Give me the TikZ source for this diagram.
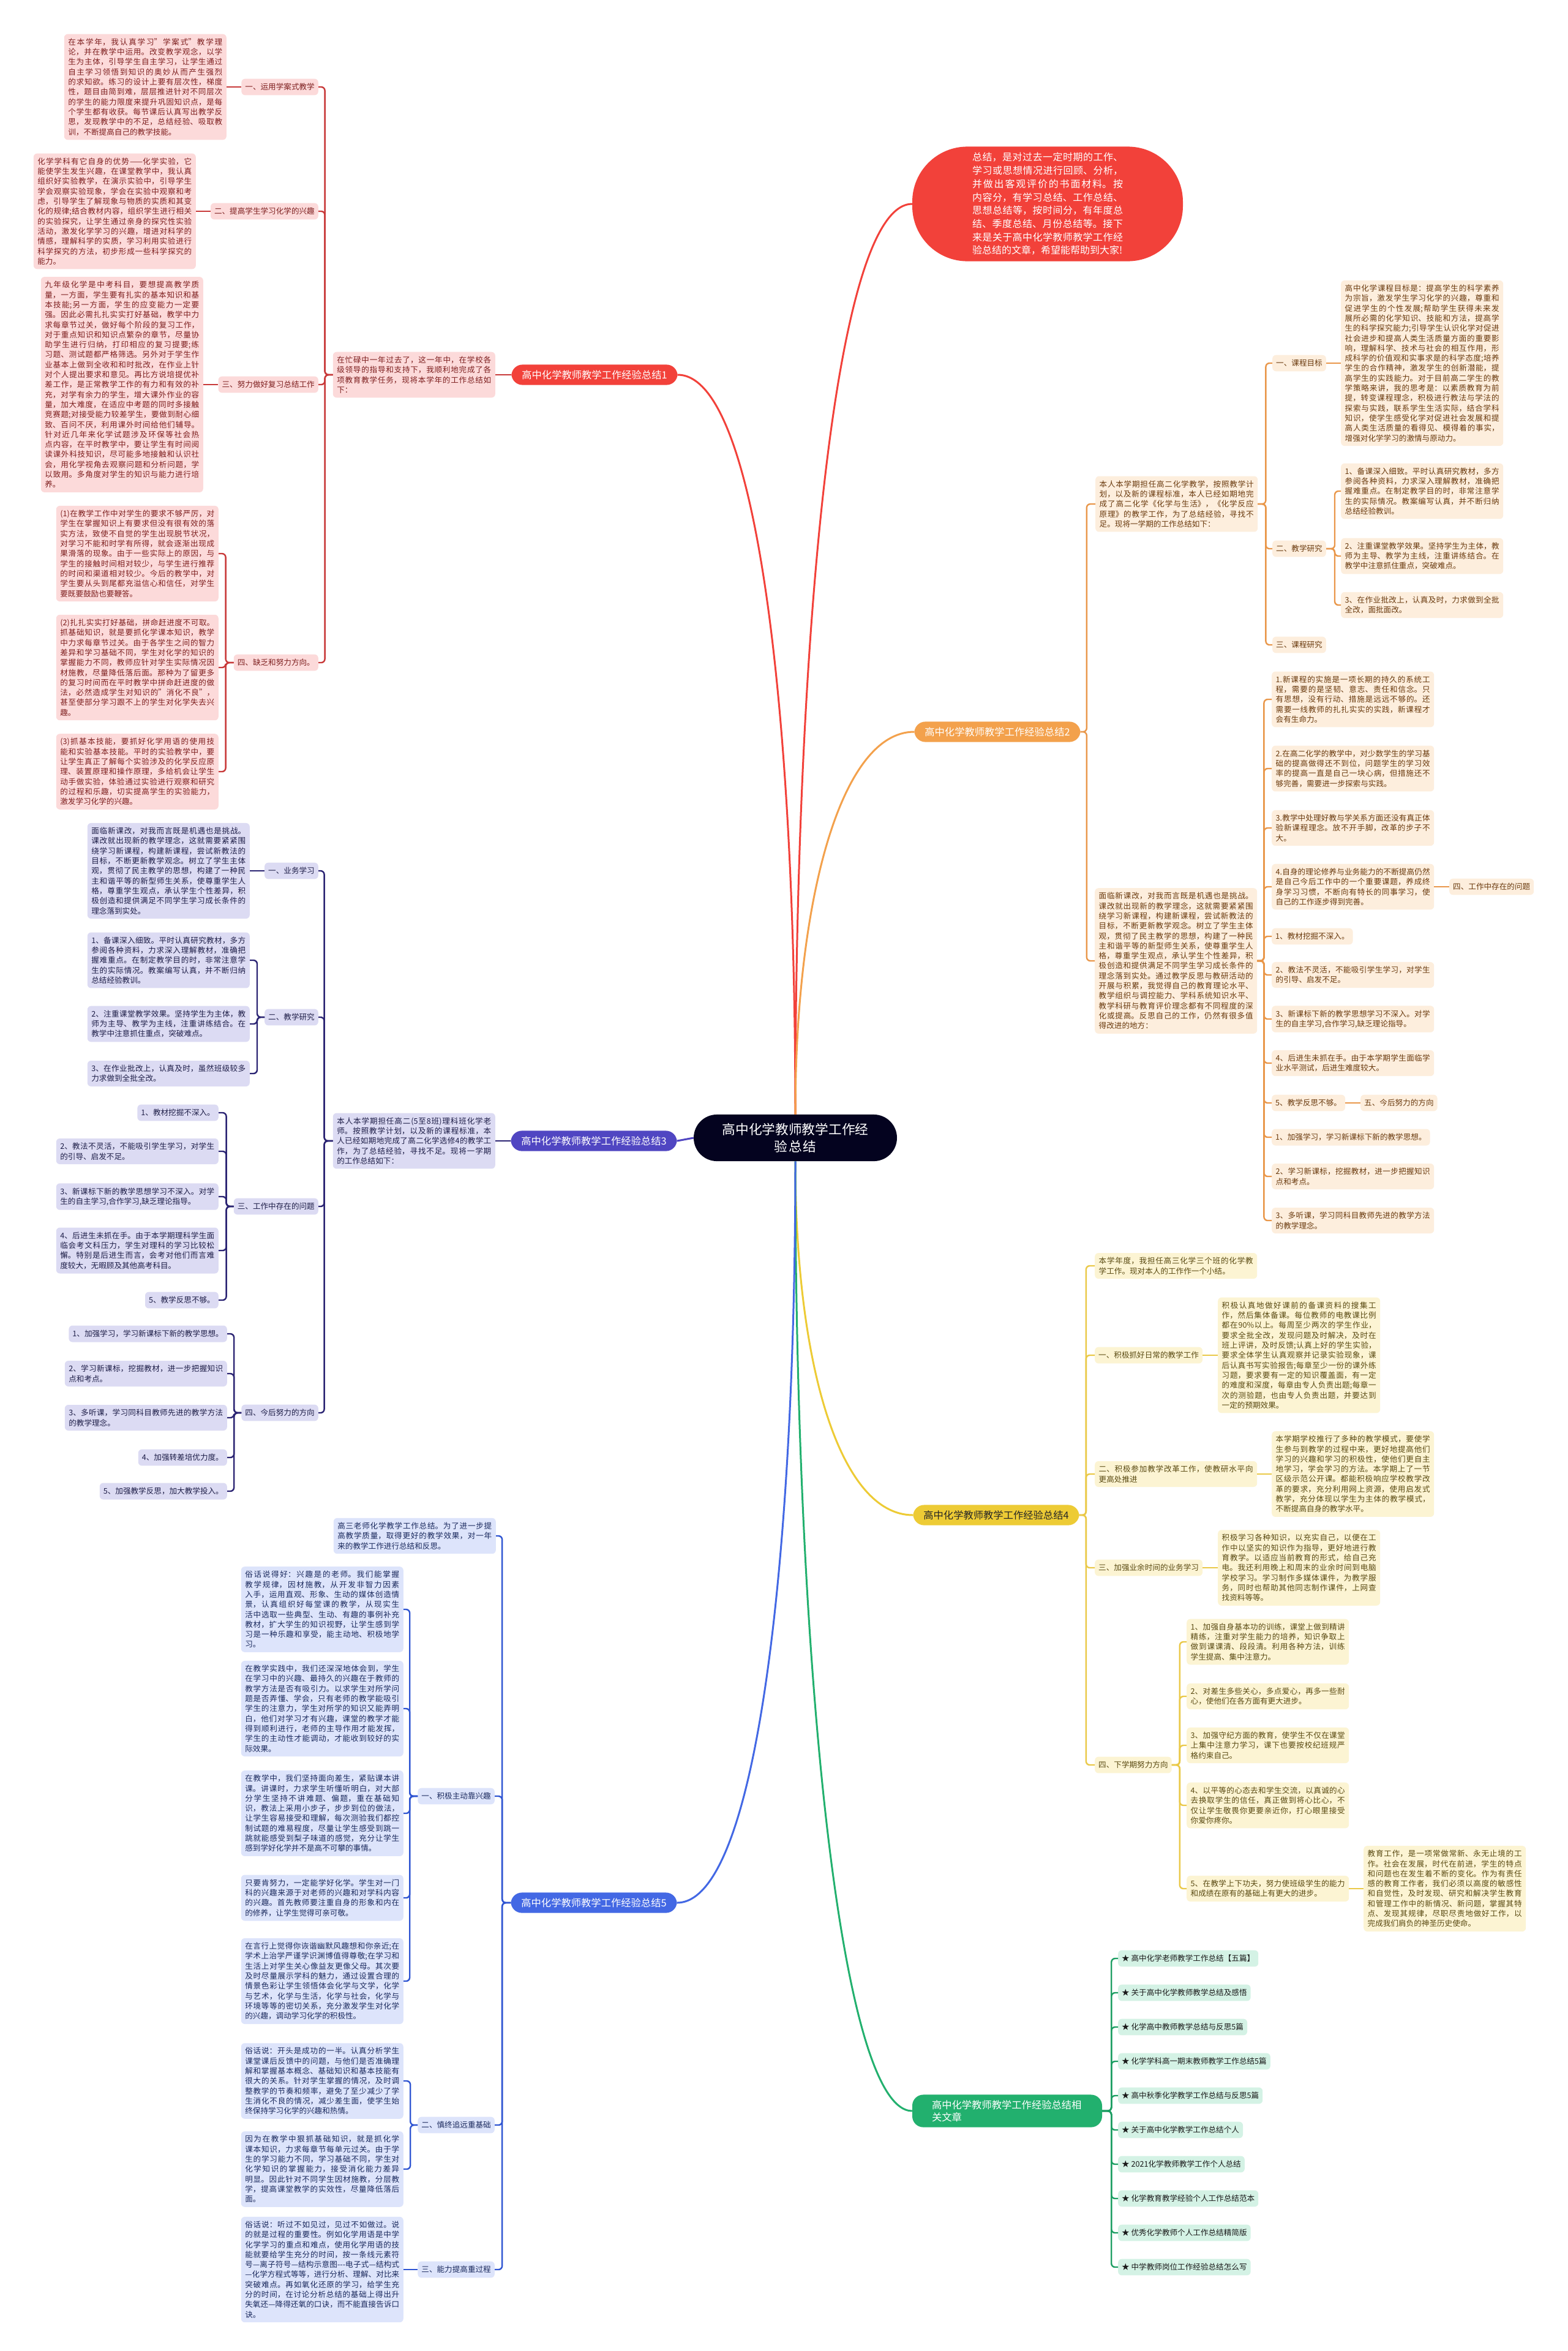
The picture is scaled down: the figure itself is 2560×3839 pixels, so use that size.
\documentclass[tikz,border=0pt]{standalone}
\usepackage{fontspec}
\setmainfont{Noto Sans CJK SC}
\XeTeXlinebreaklocale "zh"
\XeTeXlinebreakskip = 0pt plus 1pt
\usetikzlibrary{positioning}

\definecolor{RootFill}{HTML}{04031F}
\definecolor{RedMain}{HTML}{F2413A}
\definecolor{RedLine}{HTML}{C83A3A}
\definecolor{RedBox}{HTML}{FCDADA}
\definecolor{RedText}{HTML}{7E1F1F}
\definecolor{OrgMain}{HTML}{F3A14C}
\definecolor{OrgLine}{HTML}{E9974A}
\definecolor{OrgBox}{HTML}{FDEEDD}
\definecolor{OrgText}{HTML}{6A3A0E}
\definecolor{PurMain}{HTML}{5046C2}
\definecolor{PurLine}{HTML}{2B2473}
\definecolor{PurBox}{HTML}{DCDBF3}
\definecolor{PurText}{HTML}{1E1E48}
\definecolor{YelMain}{HTML}{EDCB35}
\definecolor{YelLine}{HTML}{EAC948}
\definecolor{YelBox}{HTML}{FCF4D3}
\definecolor{YelText}{HTML}{5A4A12}
\definecolor{BluMain}{HTML}{4368E4}
\definecolor{BluLine}{HTML}{2F55D2}
\definecolor{BluBox}{HTML}{DDE4FB}
\definecolor{BluText}{HTML}{1B2A5E}
\definecolor{GrnMain}{HTML}{22B06E}
\definecolor{GrnLine}{HTML}{1D9E63}
\definecolor{GrnBox}{HTML}{D4F2E5}
\definecolor{GrnText}{HTML}{1A1A1A}

\begin{document}
\begin{tikzpicture}[
    x=1pt, y=-1pt,
    rootnode/.style={fill=RootFill, text=white, rounded corners=38pt, inner xsep=46pt, inner ysep=14pt, text width=240pt, align=center, font=\fontsize{21.7}{28}\selectfont},
    topic/.style={rounded corners=18pt, inner xsep=17pt, inner ysep=9pt, text=white, font=\fontsize{16.3}{20}\selectfont},
    bubble/.style={fill=RedMain, text=white, rounded corners=90pt, inner xsep=98pt, inner ysep=10pt, text width=246pt, align=justify, font=\fontsize{16}{21.7}\selectfont},
    para/.style={rounded corners=6pt, inner xsep=6.5pt, inner ysep=7pt, text width=252pt, align=justify, font=\fontsize{12.6}{16.3}\selectfont},
    head/.style={rounded corners=6pt, inner xsep=6pt, inner ysep=7.5pt, font=\fontsize{12.6}{16.3}\selectfont},
    rbox/.style={fill=RedBox, text=RedText},
    obox/.style={fill=OrgBox, text=OrgText},
    pbox/.style={fill=PurBox, text=PurText},
    ybox/.style={fill=YelBox, text=YelText},
    bbox/.style={fill=BluBox, text=BluText},
    gbox/.style={fill=GrnBox, text=GrnText},
    link/.style={line width=2.4pt, rounded corners=6pt},
    main/.style={line width=3pt}
]

\path[fill=white] (0,0) rectangle (2560,3839);
\useasboundingbox (0,0) rectangle (2560,3839);

% Centre
\node[rootnode] (root) at (1299,1858) {高中化学教师教学工作经\\验总结};

% Branch 1: red, upper left
\node[topic, fill=RedMain] (b1) at (971,612) {高中化学教师教学工作经验总结1};
\node[para, rbox, anchor=east] (b1in) at (809,612) {在忙碌中一年过去了，这一年中，在学校各级领导的指导和支持下，我顺利地完成了各项教育教学任务，现将本学年的工作总结如下：};
\node[head, rbox, anchor=east] (r1) at (520,142) {一、运用学案式教学};
\node[head, rbox, anchor=east] (r2) at (520,345) {二、提高学生学习化学的兴趣};
\node[head, rbox, anchor=east] (r3) at (520,628) {三、努力做好复习总结工作};
\node[head, rbox, anchor=east] (r4) at (520,1082) {四、缺乏和努力方向。};
\node[para, rbox, anchor=east] (ra1) at (370,142) {在本学年，我认真学习"学案式"教学理论，并在教学中运用。改变教学观念，以学生为主体，引导学生自主学习，让学生通过自主学习领悟到知识的奥妙从而产生强烈的求知欲。练习的设计上要有层次性，梯度性，题目由简到难，层层推进针对不同层次的学生的能力限度来提升巩固知识点，是每个学生都有收获。每节课后认真写出教学反思，发现教学中的不足，总结经验、吸取教训，不断提高自己的教学技能。};
\node[para, rbox, anchor=east] (ra2) at (320,345) {化学学科有它自身的优势——化学实验，它能使学生发生兴趣，在课堂教学中，我认真组织好实验教学，在演示实验中，引导学生学会观察实验现象，学会在实验中观察和考虑，引导学生了解现象与物质的实质和其变化的规律;结合教材内容，组织学生进行相关的实验探究，让学生通过亲身的探究性实验活动，激发化学学习的兴趣，增进对科学的情感，理解科学的实质，学习利用实验进行科学探究的方法，初步形成一些科学探究的能力。};
\node[para, rbox, anchor=east] (ra3) at (332,628) {九年级化学是中考科目，要想提高教学质量，一方面，学生要有扎实的基本知识和基本技能;另一方面，学生的应变能力一定要强。因此必需扎扎实实打好基础，教学中力求每章节过关，做好每个阶段的复习工作，对于重点知识和知识点繁杂的章节，尽量协助学生进行归纳，打印相应的复习提要;练习题、测试题都严格筛选。另外对于学生作业基本上做到全收和和时批改，在作业上针对个人提出要求和意见。再比方说培提优补差工作，是正常教学工作的有力和有效的补充，对学有余力的学生，增大课外作业的容量，加大难度，在适应中考题的同时多接触竞赛题;对接受能力较差学生，要做到耐心细致、百问不厌，利用课外时间给他们辅导。针对近几年来化学试题涉及环保等社会热点内容，在平时教学中，要让学生有时间阅读课外科技知识，尽可能多地接触和认识社会，用化学视角去观察问题和分析问题，学以致用。多角度对学生的知识与能力进行培养。};
\node[para, rbox, anchor=east] (rb1) at (357,904) {(1)在教学工作中对学生的要求不够严厉，对学生在掌握知识上有要求但没有很有效的落实方法，致使不自觉的学生出现脱节状况，对学习不能和时学有所得，就会逐渐出现成果滑落的现象。由于一些实际上的原因，与学生的接触时间相对较少，与学生进行推荐的时间和渠道相对较少。今后的教学中，对学生要从头到尾都充溢信心和信任，对学生要既要鼓励也要鞭答。};
\node[para, rbox, anchor=east] (rb2) at (357,1090) {(2)扎扎实实打好基础，拼命赶进度不可取。抓基础知识，就是要抓化学课本知识，教学中力求每章节过关。由于各学生之间的智力差异和学习基础不同，学生对化学的知识的掌握能力不同，教师应针对学生实际情况因材施教，尽量降低落后面。那种为了留更多的复习时间而在平时教学中拼命赶进度的做法，必然造成学生对知识的"消化不良"，甚至使部分学习跟不上的学生对化学失去兴趣。};
\node[para, rbox, anchor=east] (rb3) at (357,1260) {(3)抓基本技能，要抓好化学用语的使用技能和实验基本技能。平时的实验教学中，要让学生真正了解每个实验涉及的化学反应原理、装置原理和操作原理，多给机会让学生动手做实验，体验通过实验进行观察和研究的过程和乐趣，切实提高学生的实验能力，激发学习化学的兴趣。};

% Bubble: red, upper right
\node[bubble] (intro) at (1711,333) {总结，是对过去一定时期的工作、学习或思想情况进行回顾、分析，并做出客观评价的书面材料。按内容分，有学习总结、工作总结、思想总结等，按时间分，有年度总结、季度总结、月份总结等。接下来是关于高中化学教师教学工作经验总结的文章，希望能帮助到大家!};

% Branch 2: orange, right
\node[topic, fill=OrgMain] (b2) at (1629,1195) {高中化学教师教学工作经验总结2};
\node[para, obox, anchor=west] (o1) at (1789,823) {本人本学期担任高二化学教学，按照教学计划，以及新的课程标准，本人已经如期地完成了高二化学《化学与生活》，《化学反应原理》的教学工作，为了总结经验，寻找不足。现将一学期的工作总结如下：};
\node[head, obox, anchor=west] (oc1) at (2078,593) {一、课程目标};
\node[head, obox, anchor=west] (oc2) at (2078,896) {二、教学研究};
\node[head, obox, anchor=west] (oc3) at (2078,1053) {三、课程研究};
\node[para, obox, anchor=west] (op0) at (2190,593) {高中化学课程目标是：提高学生的科学素养为宗旨，激发学生学习化学的兴趣，尊重和促进学生的个性发展;帮助学生获得未来发展所必需的化学知识、技能和方法，提高学生的科学探究能力;引导学生认识化学对促进社会进步和提高人类生活质量方面的重要影响，理解科学、技术与社会的相互作用，形成科学的价值观和实事求是的科学态度;培养学生的合作精神，激发学生的创新潜能，提高学生的实践能力。对于目前高二学生的教学策略来讲，我的思考是：以素质教育为前提，转变课程理念，积极进行教法与学法的探索与实践，联系学生生活实际，结合学科知识，使学生感受化学对促进社会发展和提高人类生活质量的看得见、模得着的事实，增强对化学学习的激情与原动力。};
\node[para, obox, anchor=west] (op1) at (2190,802) {1、备课深入细致。平时认真研究教材，多方参阅各种资料，力求深入理解教材，准确把握难重点。在制定教学目的时，非常注意学生的实际情况。教案编写认真，并不断归纳总结经验教训。};
\node[para, obox, anchor=west] (op2) at (2190,908) {2、注重课堂教学效果。坚持学生为主体，教师为主导、教学为主线，注重讲练结合。在教学中注意抓住重点，突破难点。};
\node[para, obox, anchor=west] (op3) at (2190,988) {3、在作业批改上，认真及时，力求做到全批全改，面批面改。};
\node[para, obox, anchor=west] (o2) at (1788,1569) {面临新课改，对我而言既是机遇也是挑战。课改就出现新的教学理念，这就需要紧紧围绕学习新课程，构建新课程，尝试新教法的目标，不断更新教学观念。树立了学生主体观，贯彻了民主教学的思想，构建了一种民主和谐平等的新型师生关系，使尊重学生人格，尊重学生观点，承认学生个性差异，积极创造和提供满足不同学生学习成长条件的理念落到实处。通过教学反思与教研活动的开展与积累，我觉得自己的教育理论水平、教学组织与调控能力、学科系统知识水平、教学科研与教育评价理念都有不同程度的深化或提高。反思自己的工作，仍然有很多值得改进的地方：};
\node[para, obox, anchor=west] (og1) at (2077,1142) {1.新课程的实施是一项长期的持久的系统工程，需要的是坚韧、意志、责任和信念。只有思想，没有行动、措施是远远不够的。还需要一线教师的扎扎实实的实践，新课程才会有生命力。};
\node[para, obox, anchor=west] (og2) at (2077,1255) {2.在高二化学的教学中，对少数学生的学习基础的提高做得还不到位，问题学生的学习效率的提高一直是自己一块心病，但措施还不够完善，需要进一步探索与实践。};
\node[para, obox, anchor=west] (og3) at (2077,1352) {3.教学中处理好教与学关系方面还没有真正体验新课程理念。放不开手脚，改革的步子不大。};
\node[para, obox, anchor=west] (og4) at (2077,1448) {4.自身的理论修养与业务能力的不断提高仍然是自己今后工作中的一个重要课题，养成终身学习习惯，不断向有特长的同事学习，使自己的工作逐步得到完善。};
\node[head, obox, anchor=west] (og4x) at (2367,1448) {四、工作中存在的问题};
\node[head, obox, anchor=west] (og5) at (2077,1529) {1、教材挖掘不深入。};
\node[para, obox, anchor=west] (og6) at (2077,1592) {2、教法不灵活，不能吸引学生学习，对学生的引导、启发不足。};
\node[para, obox, anchor=west] (og7) at (2077,1664) {3、新课标下新的教学思想学习不深入。对学生的自主学习,合作学习,缺乏理论指导。};
\node[para, obox, anchor=west] (og8) at (2077,1736) {4、后进生未抓在手。由于本学期学生面临学业水平测试，后进生难度较大。};
\node[head, obox, anchor=west] (og9) at (2077,1801) {5、教学反思不够。};
\node[head, obox, anchor=west] (og9x) at (2222,1801) {五、今后努力的方向};
\node[head, obox, anchor=west] (og10) at (2077,1857) {1、加强学习，学习新课标下新的教学思想。};
\node[para, obox, anchor=west] (og11) at (2077,1921) {2、学习新课标，挖掘教材，进一步把握知识点和考点。};
\node[para, obox, anchor=west] (og12) at (2077,1993) {3、多听课，学习同科目教师先进的教学方法的教学理念。};

% Branch 3: purple, left middle
\node[topic, fill=PurMain] (b3) at (970,1863) {高中化学教师教学工作经验总结3};
\node[para, pbox, anchor=east] (b3in) at (809,1863) {本人本学期担任高二(5至8班)理科班化学老师。按照教学计划，以及新的课程标准，本人已经如期地完成了高二化学选修4的教学工作，为了总结经验，寻找不足。现将一学期的工作总结如下：};
\node[head, pbox, anchor=east] (p1) at (520,1422) {一、业务学习};
\node[head, pbox, anchor=east] (p2) at (520,1661) {二、教学研究};
\node[head, pbox, anchor=east] (p3) at (520,1970) {三、工作中存在的问题};
\node[head, pbox, anchor=east] (p4) at (520,2307) {四、今后努力的方向};
\node[para, pbox, anchor=east] (pk1) at (408,1422) {面临新课改，对我而言既是机遇也是挑战。课改就出现新的教学理念，这就需要紧紧围绕学习新课程，构建新课程，尝试新教法的目标，不断更新教学观念。树立了学生主体观，贯彻了民主教学的思想，构建了一种民主和谐平等的新型师生关系，使尊重学生人格，尊重学生观点，承认学生个性差异，积极创造和提供满足不同学生学习成长条件的理念落到实处。};
\node[para, pbox, anchor=east] (pk2) at (408,1568) {1、备课深入细致。平时认真研究教材，多方参阅各种资料，力求深入理解教材，准确把握难重点。在制定教学目的时，非常注意学生的实际情况。教案编写认真，并不断归纳总结经验教训。};
\node[para, pbox, anchor=east] (pk3) at (408,1672) {2、注重课堂教学效果。坚持学生为主体，教师为主导、教学为主线，注重讲练结合。在教学中注意抓住重点，突破难点。};
\node[para, pbox, anchor=east] (pk4) at (408,1753) {3、在作业批改上，认真及时，虽然班级较多力求做到全批全改。};
\node[head, pbox, anchor=east] (pm1) at (357,1817) {1、教材挖掘不深入。};
\node[para, pbox, anchor=east] (pm2) at (357,1880) {2、教法不灵活，不能吸引学生学习，对学生的引导、启发不足。};
\node[para, pbox, anchor=east] (pm3) at (357,1954) {3、新课标下新的教学思想学习不深入。对学生的自主学习,合作学习,缺乏理论指导。};
\node[para, pbox, anchor=east] (pm4) at (357,2042) {4、后进生未抓在手。由于本学期理科学生面临会考文科压力，学生对理科的学习比较松懈。特别是后进生而言，会考对他们而言难度较大，无暇顾及其他高考科目。};
\node[head, pbox, anchor=east] (pm5) at (357,2123) {5、教学反思不够。};
\node[head, pbox, anchor=east] (pn1) at (371,2178) {1、加强学习，学习新课标下新的教学思想。};
\node[para, pbox, anchor=east] (pn2) at (371,2243) {2、学习新课标，挖掘教材，进一步把握知识点和考点。};
\node[para, pbox, anchor=east] (pn3) at (371,2315) {3、多听课，学习同科目教师先进的教学方法的教学理念。};
\node[head, pbox, anchor=east] (pn4) at (371,2380) {4、加强转差培优力度。};
\node[head, pbox, anchor=east] (pn5) at (371,2435) {5、加强教学反思，加大教学投入。};

% Branch 4: yellow, right lower
\node[topic, fill=YelMain, text=black!85] (b4) at (1627,2474) {高中化学教师教学工作经验总结4};
\node[para, ybox, anchor=west] (y0) at (1788,2067) {本学年度，我担任高三化学三个班的化学教学工作。现对本人的工作作一个小结。};
\node[head, ybox, anchor=west] (yh1) at (1788,2213) {一、积极抓好日常的教学工作};
\node[para, ybox, anchor=west] (yh2) at (1788,2407) {二、积极参加教学改革工作，使教研水平向更高处推进};
\node[head, ybox, anchor=west] (yh3) at (1788,2560) {三、加强业余时间的业务学习};
\node[head, ybox, anchor=west] (yh4) at (1788,2882) {四、下学期努力方向};
\node[para, ybox, anchor=west] (yq1) at (1989,2213) {积极认真地做好课前的备课资料的搜集工作，然后集体备课。每位教师的电教课比例都在90\%以上。每周至少两次的学生作业，要求全批全改，发现问题及时解决，及时在班上评讲，及时反馈;认真上好的学生实验，要求全体学生认真观察并记录实验现象，课后认真书写实验报告;每章至少一份的课外练习题，要求要有一定的知识覆盖面，有一定的难度和深度，每章由专人负责出题;每章一次的测验题，也由专人负责出题，并要达到一定的预期效果。};
\node[para, ybox, anchor=west] (yq2) at (2077,2407) {本学期学校推行了多种的教学模式，要使学生参与到教学的过程中来，更好地提高他们学习的兴趣和学习的积极性，使他们更自主地学习，学会学习的方法。本学期上了一节区级示范公开课。都能积极响应学校教学改革的要求，充分利用网上资源，使用启发式教学，充分体现以学生为主体的教学模式，不断提高自身的教学水平。};
\node[para, ybox, anchor=west] (yq3) at (1989,2560) {积极学习各种知识，以充实自己，以便在工作中以坚实的知识作为指导，更好地进行教育教学。以适应当前教育的形式，给自己充电。我还利用晚上和周末的业余时间到电脑学校学习。学习制作多媒体课件，为教学服务，同时也帮助其他同志制作课件，上网查找资料等等。};
\node[para, ybox, anchor=west] (yi1) at (1938,2681) {1、加强自身基本功的训练，课堂上做到精讲精练，注重对学生能力的培养，知识争取上做到课课清、段段清。利用各种方法，训练学生提高、集中注意力。};
\node[para, ybox, anchor=west] (yi2) at (1938,2770) {2、对差生多些关心，多点爱心，再多一些耐心，使他们在各方面有更大进步。};
\node[para, ybox, anchor=west] (yi3) at (1938,2850) {3、加强守纪方面的教育，使学生不仅在课堂上集中注意力学习，课下也要按校纪班规严格约束自己。};
\node[para, ybox, anchor=west] (yi4) at (1938,2948) {4、以平等的心态去和学生交流，以真诚的心去换取学生的信任，真正做到将心比心，不仅让学生敬畏你更要亲近你，打心眼里接受你爱你疼你。};
\node[para, ybox, anchor=west] (yi5) at (1938,3084) {5、在教学上下功夫，努力使班级学生的能力和成绩在原有的基础上有更大的进步。};
\node[para, ybox, anchor=west] (yj) at (2227,3084) {教育工作，是一项常做常新、永无止境的工作。社会在发展，时代在前进，学生的特点和问题也在发生着不断的变化。作为有责任感的教育工作者，我们必须以高度的敏感性和自觉性，及时发现、研究和解决学生教育和管理工作中的新情况、新问题，掌握其特点、发现其规律，尽职尽责地做好工作，以完成我们肩负的神圣历史使命。};

% Branch 5: blue, left lower
\node[topic, fill=BluMain] (b5) at (970,3107) {高中化学教师教学工作经验总结5};
\node[para, bbox, anchor=east] (b5in) at (810,2508) {高三老师化学教学工作总结。为了进一步提高教学质量，取得更好的教学效果，对一年来的教学工作进行总结和反思。};
\node[head, bbox, anchor=east] (s1) at (808,2933) {一、积极主动靠兴趣};
\node[head, bbox, anchor=east] (s2) at (808,3470) {二、慎终追远重基础};
\node[head, bbox, anchor=east] (s3) at (808,3706) {三、能力提高重过程};
\node[para, bbox, anchor=east] (sd1) at (659,2628) {俗话说得好：兴趣是的老师。我们能掌握教学规律，因材施教，从开发非智力因素入手，运用直观、形象、生动的媒体创造情景，认真组织好每堂课的教学，从现实生活中选取一些典型、生动、有趣的事例补充教材，扩大学生的知识视野，让学生感到学习是一种乐趣和享受，能主动地、积极地学习。};
\node[para, bbox, anchor=east] (sd2) at (659,2790) {在教学实践中，我们还深深地体会到，学生在学习中的兴趣、最持久的兴趣在于教师的教学方法是否有吸引力。以求学生对所学问题是否弄懂、学会，只有老师的教学能吸引学生的注意力，学生对所学的知识又能弄明白，他们对学习才有兴趣，课堂的教学才能得到顺利进行，老师的主导作用才能发挥，学生的主动性才能调动，才能收到较好的实际效果。};
\node[para, bbox, anchor=east] (sd3) at (659,2961) {在教学中，我们坚持面向差生，紧贴课本讲课。讲课时，力求学生听懂听明白，对大部分学生坚持不讲难题、偏题，重在基础知识，教法上采用小步子，步步到位的做法，让学生容易接受和理解，每次测验我们都控制试题的难易程度，尽量让学生感受到跳一跳就能感受到梨子味道的感觉，充分让学生感到学好化学并不是高不可攀的事情。};
\node[para, bbox, anchor=east] (sd4) at (659,3099) {只要肯努力，一定能学好化学。学生对一门科的兴趣来源于对老师的兴趣和对学科内容的兴趣。首先教师要注重自身的形象和内在的修养，让学生觉得可亲可敬。};
\node[para, bbox, anchor=east] (sd5) at (659,3235) {在言行上觉得你诙谐幽默风趣想和你亲近;在学术上治学严谨学识渊博值得尊敬;在学习和生活上对学生关心像益友更像父母。其次要及时尽量展示学科的魅力，通过设置合理的情景色彩让学生领悟体会化学与文学，化学与艺术，化学与生活，化学与社会，化学与环境等等的密切关系，充分激发学生对化学的兴趣，调动学习化学的积极性。};
\node[para, bbox, anchor=east] (se1) at (659,3398) {俗话说：开头是成功的一半。认真分析学生课堂课后反馈中的问题，与他们是否准确理解和掌握基本概念、基础知识和基本技能有很大的关系。针对学生掌握的情况，及时调整教学的节奏和频率，避免了至少减少了学生消化不良的情况，减少差生面，使学生始终保持学习化学的兴趣和热情。};
\node[para, bbox, anchor=east] (se2) at (659,3542) {因为在教学中狠抓基础知识，就是抓化学课本知识，力求每章节每单元过关。由于学生的学习能力不同，学习基础不同，学生对化学知识的掌握能力，接受消化能力差异明显。因此针对不同学生因材施教，分层教学，提高课堂教学的实效性，尽量降低落后面。};
\node[para, bbox, anchor=east] (sf1) at (659,3706) {俗话说：听过不如见过，见过不如做过。说的就是过程的重要性。例如化学用语是中学化学学习的重点和难点，使用化学用语的技能就要给学生充分的时间，按一条线元素符号—离子符号—结构示意图-{}-{}-电子式—结构式—化学方程式等等，进行分析、理解、对比来突破难点。再如氧化还原的学习，给学生充分的时间，在讨论分析总结的基础上得出升失氧还—降得还氧的口诀，而不能直接告诉口诀。};

% Branch 6: green, related articles
\node[topic, fill=GrnMain, inner xsep=32pt, text width=246pt, align=left] (gr) at (1645,3447) {高中化学教师教学工作经验总结相\\关文章};
\foreach \t [count=\i] in {高中化学老师教学工作总结【五篇】,关于高中化学教师教学总结及感悟,化学高中教师教学总结与反思5篇,化学学科高一期末教师教学工作总结5篇,高中秋季化学教学工作总结与反思5篇,关于高中化学教学工作总结个人,2021化学教师教学工作个人总结,化学教育教学经验个人工作总结范本,优秀化学教师个人工作总结精简版,中学教师岗位工作经验总结怎么写}
    \node[head, gbox, anchor=west] (gi\i) at (1826,3142+56*\i) {★ \t};

% Links from the centre
\draw[main, draw=RedMain] (root.north) .. controls +(0,-650) and +(130,0) .. (b1.east);
\draw[main, draw=RedMain] (root.north) .. controls +(0,-750) and +(-130,0) .. (intro.west);
\draw[main, draw=OrgMain] (root.north) .. controls +(0,-350) and +(-120,0) .. (b2.west);
\draw[main, draw=PurMain] (root.west) -- (b3.east);
\draw[main, draw=YelMain] (root.south) .. controls +(0,330) and +(-120,0) .. (b4.west);
\draw[main, draw=GrnMain] (root.south) .. controls +(0,800) and +(-120,0) .. (gr.west);
\draw[main, draw=BluMain] (root.south) .. controls +(0,650) and +(130,0) .. (b5.east);

% Links, branch 1
\draw[link, draw=RedLine] (b1.west) -- (b1in.east);
\foreach \c in {r1,r2,r3,r4}
    \draw[link, draw=RedLine] (b1in.west) -- ++(-13,0) |- (\c.east);
\draw[link, draw=RedLine] (r1.west) -- (ra1.east);
\draw[link, draw=RedLine] (r2.west) -- (ra2.east);
\draw[link, draw=RedLine] (r3.west) -- (ra3.east);
\foreach \c in {rb1,rb2,rb3}
    \draw[link, draw=RedLine] (r4.west) -- ++(-13,0) |- (\c.east);

% Links, branch 2
\foreach \c in {o1,o2}
    \draw[link, draw=OrgLine] (b2.east) -- ++(10,0) |- (\c.west);
\foreach \c in {oc1,oc2,oc3}
    \draw[link, draw=OrgLine] (o1.east) -- ++(13,0) |- (\c.west);
\draw[link, draw=OrgLine] (oc1.east) -- (op0.west);
\foreach \c in {op1,op2,op3}
    \draw[link, draw=OrgLine] (oc2.east) -- ++(14,0) |- (\c.west);
\foreach \c in {og1,og2,og3,og4,og5,og6,og7,og8,og9,og10,og11,og12}
    \draw[link, draw=OrgLine] (o2.east) -- ++(11,0) |- (\c.west);
\draw[link, draw=OrgLine] (og4.east) -- (og4x.west);
\draw[link, draw=OrgLine] (og9.east) -- (og9x.west);

% Links, branch 3
\draw[link, draw=PurLine] (b3.west) -- (b3in.east);
\foreach \c in {p1,p2,p3,p4}
    \draw[link, draw=PurLine] (b3in.west) -- ++(-14,0) |- (\c.east);
\draw[link, draw=PurLine] (p1.west) -- (pk1.east);
\foreach \c in {pk2,pk3,pk4}
    \draw[link, draw=PurLine] (p2.west) -- ++(-12,0) |- (\c.east);
\foreach \c in {pm1,pm2,pm3,pm4,pm5}
    \draw[link, draw=PurLine] (p3.west) -- ++(-12,0) |- (\c.east);
\foreach \c in {pn1,pn2,pn3,pn4,pn5}
    \draw[link, draw=PurLine] (p4.west) -- ++(-12,0) |- (\c.east);

% Links, branch 4
\foreach \c in {y0,yh1,yh2,yh3,yh4}
    \draw[link, draw=YelLine] (b4.east) -- ++(11,0) |- (\c.west);
\draw[link, draw=YelLine] (yh1.east) -- (yq1.west);
\draw[link, draw=YelLine] (yh2.east) -- (yq2.west);
\draw[link, draw=YelLine] (yh3.east) -- (yq3.west);
\foreach \c in {yi1,yi2,yi3,yi4,yi5}
    \draw[link, draw=YelLine] (yh4.east) -- ++(13,0) |- (\c.west);
\draw[link, draw=YelLine] (yi5.east) -- (yj.west);

% Links, branch 5
\foreach \c in {b5in,s1,s2,s3}
    \draw[link, draw=BluLine] (b5.west) -- ++(-14,0) |- (\c.east);
\foreach \c in {sd1,sd2,sd3,sd4,sd5}
    \draw[link, draw=BluLine] (s1.west) -- ++(-13,0) |- (\c.east);
\foreach \c in {se1,se2}
    \draw[link, draw=BluLine] (s2.west) -- ++(-12,0) |- (\c.east);
\draw[link, draw=BluLine] (s3.west) -- (sf1.east);

% Links, related articles
\foreach \i in {1,...,10}
    \draw[link, draw=GrnLine] (gr.east) -- ++(15,0) |- (gi\i.west);

\end{tikzpicture}
\end{document}
